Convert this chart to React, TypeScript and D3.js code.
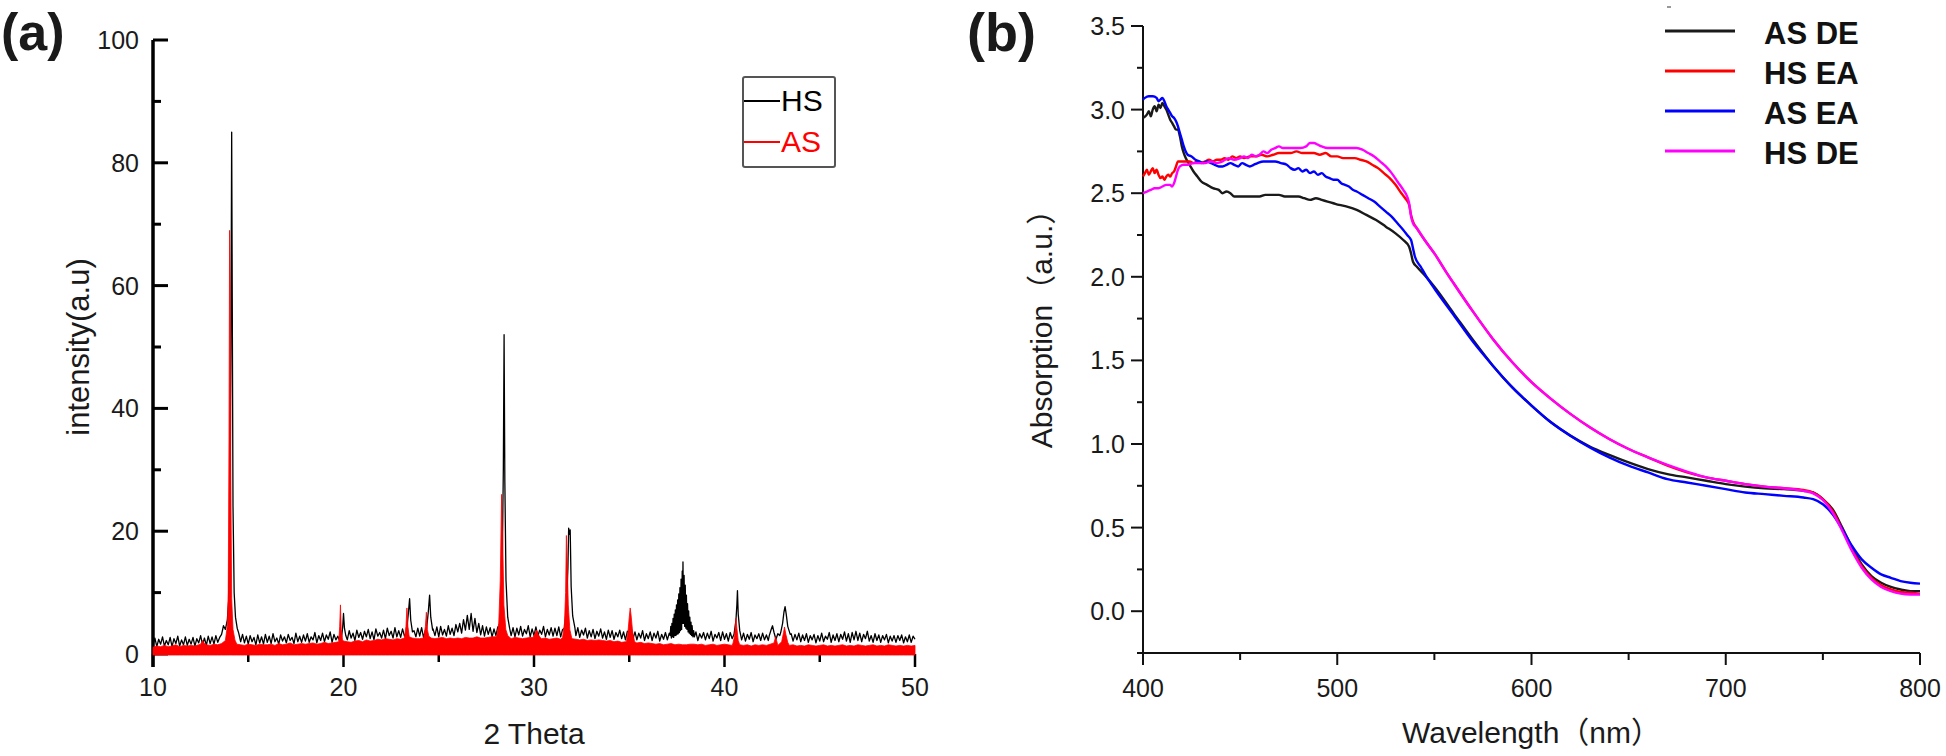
import React from "react";
import * as d3 from "d3";

// ---------------- Panel (a): XRD ----------------
const xrdXTicks = [10, 20, 30, 40, 50];
const xrdXMinor = [15, 25, 35, 45];
const xrdYTicks = [0, 20, 40, 60, 80, 100];
const xrdYMinor = [10, 30, 50, 70, 90];

// HS baseline (2θ from 10 to 50, step 0.1)
const hsStart = 10;
const hsStep = 0.1;
const hsBaseline = [
  1.4,2.6,1.2,2.4,1.6,2.8,1.3,2.2,1.5,2.7,
  1.2,2.5,1.7,2.9,1.3,2.3,1.5,2.8,1.4,2.4,
  1.6,2.7,1.3,2.5,1.8,3.0,1.5,2.6,1.4,2.9,
  1.7,2.8,1.6,3.0,1.9,2.7,2.0,3.1,3.3,3.6,
  5,5,5,5,5,3.6,2.0,3.2,1.8,2.9,
  1.6,3.0,2.0,2.7,1.5,3.1,1.8,2.8,1.6,3.2,
  1.9,2.9,1.7,3.3,2.0,2.6,1.6,3.1,2.1,2.8,
  1.8,3.2,2.2,2.7,1.7,3.4,2.0,2.9,1.9,3.1,
  2.1,3.3,1.9,2.8,2.3,3.5,1.8,3.0,2.2,3.4,
  2.0,3.1,2.4,3.6,1.9,3.2,2.3,2.9,2.1,3.0,
  3,3,2.3,3.8,2.6,3.4,2.2,3.9,2.7,3.5,
  2.4,3.7,2.8,4.0,2.5,3.6,2.3,4.1,2.9,3.5,
  2.6,3.9,2.5,4.2,3.0,3.7,2.6,4.3,2.8,3.8,
  2.7,4.1,2.9,3.6,4,4,4,3.8,2.8,4.2,
  2.9,4.3,2.7,3.9,4,4,4,4.1,3.0,4.4,
  2.8,4.5,3.1,4.0,2.9,4.6,3.2,4.2,3.0,4.8,
  3.6,5.0,3.4,5.6,3.9,6.3,4.0,6.6,3.7,5.8,
  3.5,5.0,3.1,4.6,2.9,4.4,3.2,4.3,2.8,4.1,
  3.0,4.4,4,4,4,4,4,4,3.0,4.3,
  2.8,4.2,3.1,4.5,2.9,4.0,3.3,4.6,2.8,4.1,
  3.0,4.4,2.9,3.9,3.2,4.5,2.8,4.0,3.1,4.3,
  2.9,4.2,3.0,4.4,2.8,4.0,4,4,4,4,
  4,4,3.0,4.3,2.7,3.9,3.1,4.2,2.6,3.8,
  2.8,4.0,2.5,3.7,2.9,4.1,2.6,3.6,2.4,3.9,
  2.7,3.8,2.4,3.5,2.8,3.9,2.5,3.6,2.3,3.7,
  3.6,4.2,2.5,3.6,2.3,3.4,2.6,3.8,2.2,3.3,
  2.5,3.6,2.2,3.4,2.6,3.7,2.1,3.2,2.4,3.5,
  2.3,3.4,2.6,3,3,3,3,3,3,3,
  3,3,3,3,2.4,3.6,2.2,3.3,2.6,3.5,
  2.3,3.4,2.5,3.7,2.1,3.2,2.6,3.5,2.2,3.6,
  2.4,3.3,2.1,3.5,2.5,3,3,3,3,2.3,
  3.4,2.1,3.2,2.4,3.5,2.0,3.1,2.5,3.3,2.2,
  3.4,2.3,3.1,2.2,3,3,3,2.4,3.3,3,
  3,3,3,3,3,3.3,2.1,3.2,2.3,3.4,
  2.0,3.1,2.2,3.3,1.9,3.0,2.3,3.2,1.8,3.0,
  2.1,3.4,2.0,2.9,2.4,3.5,1.9,3.1,2.2,3.3,
  2.0,3.2,2.4,3.6,2.1,3.3,1.9,3.5,2.3,3.7,
  2.2,3.4,2.0,3.2,2.5,3.7,2.1,3.0,1.9,3.3,
  2.2,3.1,1.9,3.0,2.3,3.2,1.8,2.9,2.1,3.0,
  1.9,3.0,2.2,3.1,1.8,2.8,2.0,3.1,1.9,2.9,
  2.4,
];

// HS peak clusters [2θ, intensity]
const hsPeaks = [
  [[13.6,3.2],[13.7,4.6],[13.8,4.0],[13.9,5.5],[13.98,9],[14.04,22],[14.09,50],[14.13,85],[14.16,58],[14.2,24],[14.26,10],[14.33,6],[14.42,4.2],[14.5,3.4]],
  [[19.9,2.8],[19.96,4.5],[20.0,6.6],[20.05,4.2],[20.12,3.0]],
  [[23.3,3.4],[23.4,6.5],[23.47,9.0],[23.53,5.5],[23.62,3.6]],
  [[24.35,3.8],[24.45,6.8],[24.52,9.6],[24.58,6.0],[24.68,3.9]],
  [[28.15,4.0],[28.25,6.5],[28.33,14],[28.39,30],[28.43,52],[28.47,28],[28.53,12],[28.62,6.0],[28.72,4.2]],
  [[31.6,4.2],[31.7,7.5],[31.78,14],[31.82,20.5],[31.86,19.5],[31.9,20.2],[31.95,11],[32.03,6.2],[32.15,4.2]],
  [[37.15,3],[37.18,4.5],[37.21,2.6],[37.24,5],[37.27,2.8],[37.3,5.8],[37.33,2.7],[37.36,6.5],[37.39,3],[37.42,7.2],[37.45,3],[37.48,8],[37.51,3.2],[37.54,8.8],[37.57,3.3],[37.6,9.8],[37.63,3.5],[37.66,10.8],[37.69,3.8],[37.72,12.2],[37.75,4],[37.78,13.5],[37.8,5],[37.82,15],[37.85,5],[37.88,12.8],[37.91,4.5],[37.94,11.2],[37.97,4.2],[38.0,9.6],[38.03,4],[38.06,8.2],[38.09,3.6],[38.12,7],[38.15,3.4],[38.18,6],[38.21,3.2],[38.24,5.2],[38.27,3],[38.3,4.6],[38.34,2.8],[38.38,3.8],[38.42,2.8]],
  [[40.5,3.2],[40.6,5.5],[40.65,8],[40.68,10.3],[40.72,6.5],[40.8,3.8]],
  [[42.35,3],[42.45,4.0],[42.52,4.6],[42.6,3.5]],
  [[42.95,3.5],[43.05,5.0],[43.12,6.8],[43.18,7.7],[43.24,6.5],[43.32,4.5],[43.45,3.2]],
];

// AS baseline (2θ from 10 to 50, step 0.2)
const asStart = 10;
const asStep = 0.2;
const asBaseline = [
  1.1,1.3,1.2,1.4,1.2,1.3,1.5,1.2,1.4,1.3,
  1.4,1.3,1.5,1.7,1.5,1.4,1.6,1.5,1.7,1.8,
  1.9,1.8,1.6,1.5,1.4,1.6,1.5,1.4,1.6,1.5,
  1.5,1.6,1.4,1.7,1.5,1.6,1.8,1.5,1.6,1.7,
  1.6,1.7,1.8,1.6,1.7,1.9,1.7,1.8,1.9,2.0,
  2.1,2.0,1.9,2.1,2.2,2.0,2.3,2.1,2.2,2.4,
  2.3,2.5,2.4,2.3,2.5,2.4,2.5,2.4,2.6,2.5,
  2.5,2.6,2.4,2.6,2.5,2.6,2.7,2.5,2.6,2.5,
  2.6,2.5,2.7,2.6,2.6,2.8,2.6,2.6,2.7,2.8,
  2.8,2.7,2.6,2.6,2.5,2.7,2.6,2.5,2.6,2.7,
  2.6,2.7,2.5,2.6,2.4,2.5,2.6,2.4,2.5,2.6,
  2.5,2.4,2.3,2.4,2.2,2.3,2.2,2.3,2.2,2.1,
  2.2,2.0,2.1,1.9,2.0,2.1,1.9,1.8,1.9,1.7,
  1.8,1.7,1.6,1.7,1.5,1.6,1.7,1.5,1.6,1.5,
  1.5,1.6,1.6,1.5,1.6,1.4,1.5,1.6,1.4,1.5,
  1.6,1.5,1.4,1.6,1.5,1.4,1.5,1.3,1.5,1.4,
  1.5,1.4,1.6,1.5,1.4,1.5,1.3,1.4,1.5,1.3,
  1.4,1.3,1.5,1.4,1.3,1.4,1.5,1.3,1.4,1.3,
  1.4,1.5,1.3,1.4,1.3,1.5,1.4,1.3,1.4,1.5,
  1.3,1.4,1.3,1.5,1.4,1.3,1.4,1.3,1.4,1.3,
  1.4,
];

const asPeaks = [
  [[12.5,1.6],[12.6,2.2],[12.7,1.7]],
  [[13.8,2.2],[13.9,4.5],[13.95,10],[13.99,35],[14.02,69],[14.05,60],[14.08,30],[14.13,9],[14.2,4],[14.3,2.3]],
  [[19.75,2.0],[19.8,4.5],[19.84,8.0],[19.88,4.0],[19.95,2.3]],
  [[23.2,2.6],[23.28,4.5],[23.33,7.5],[23.38,4.5],[23.45,2.8]],
  [[24.22,2.8],[24.3,4.5],[24.35,6.8],[24.4,4.0],[24.48,2.9]],
  [[28.05,3.0],[28.15,5],[28.23,12],[28.3,26],[28.36,18],[28.42,8],[28.52,4],[28.62,3]],
  [[29.95,2.7],[30.05,3.3],[30.13,3.9],[30.22,3.2],[30.32,2.7]],
  [[31.5,2.7],[31.6,5],[31.66,10],[31.7,19.3],[31.74,15],[31.8,8],[31.88,4],[31.98,2.6]],
  [[34.85,2.0],[34.93,3.5],[35.0,6.0],[35.05,7.5],[35.1,6.2],[35.18,3.5],[35.28,2.0]],
  [[40.45,1.8],[40.53,3.0],[40.6,5.8],[40.65,4.2],[40.72,2.2]],
  [[42.6,1.8],[42.68,2.8],[42.76,1.9]],
  [[43.0,2],[43.1,3.5],[43.15,4.4],[43.22,3.2],[43.32,1.9]],
];

const xrdLegend = [
  { name: "HS", color: "#000000" },
  { name: "AS", color: "#ff0000" },
];

// ---------------- Panel (b): UV-Vis ----------------
const wlTicks = [400, 500, 600, 700, 800];
const wlMinor = [450, 550, 650, 750];
const absTicks = [0, 0.5, 1.0, 1.5, 2.0, 2.5, 3.0, 3.5];
const absMinor = [-0.25, 0.25, 0.75, 1.25, 1.75, 2.25, 2.75, 3.25];

const asDE = [
  [400,2.95],[402,2.97],[403,2.99],[404,2.96],[405,3.0],[406,3.02],[407,2.99],[408,3.03],[409,3.01],[410,3.04],[411,3.02],[412,3.0],[413,2.97],[414,2.94],[415,2.92],[416,2.9],[417,2.88],[418,2.88],[419,2.84],[420,2.78],[421,2.74],[422,2.71],[424,2.67],[426,2.63],[428,2.6],[430,2.57],[433,2.55],[436,2.53],[439,2.52],[441,2.5],[443,2.51],[445,2.5],[447,2.48],[450,2.48],[455,2.48],[460,2.48],[463,2.49],[466,2.49],[470,2.49],[473,2.48],[477,2.48],[480,2.48],[483,2.47],[486,2.46],[489,2.47],[492,2.46],[495,2.45],[498,2.44],[501,2.43],[505,2.42],[510,2.40],[515,2.37],[520,2.34],[525,2.30],[530,2.26],[534,2.22],[537,2.18],[538,2.14],[539,2.09],[541,2.06],[545,2.01],[550,1.94],[560,1.78],[570,1.62],[580,1.47],[590,1.34],[600,1.23],[610,1.13],[620,1.05],[630,0.985],[640,0.935],[650,0.89],[660,0.85],[670,0.82],[680,0.80],[690,0.78],[700,0.76],[710,0.745],[720,0.735],[730,0.73],[740,0.72],[745,0.71],[750,0.67],[755,0.61],[760,0.50],[765,0.38],[770,0.28],[775,0.21],[780,0.17],[785,0.145],[790,0.13],[795,0.12],[800,0.12],
];
const hsEA = [
  [400,2.60],[401,2.62],[402,2.64],[403,2.61],[404,2.63],[405,2.65],[406,2.62],[407,2.64],[408,2.61],[409,2.59],[410,2.6],[411,2.58],[412,2.6],[413,2.61],[414,2.6],[415,2.62],[416,2.63],[417,2.66],[418,2.69],[420,2.69],[422,2.69],[424,2.69],[426,2.68],[428,2.69],[430,2.68],[432,2.69],[434,2.70],[436,2.69],[438,2.70],[440,2.70],[442,2.71],[444,2.70],[446,2.72],[448,2.71],[450,2.72],[452,2.71],[455,2.72],[458,2.72],[461,2.73],[464,2.72],[467,2.73],[470,2.74],[473,2.74],[476,2.74],[479,2.75],[482,2.74],[485,2.74],[488,2.74],[491,2.73],[494,2.74],[497,2.72],[500,2.72],[503,2.71],[506,2.71],[509,2.71],[512,2.70],[515,2.69],[518,2.67],[521,2.65],[524,2.62],[527,2.59],[530,2.55],[533,2.50],[535,2.47],[537,2.43],[538,2.37],[539,2.33],[541,2.29],[545,2.22],[550,2.14],[556,2.03],[560,1.96],[570,1.79],[580,1.63],[590,1.49],[600,1.37],[610,1.27],[620,1.18],[630,1.10],[640,1.03],[650,0.97],[660,0.92],[670,0.87],[680,0.83],[690,0.80],[700,0.78],[710,0.76],[720,0.745],[730,0.735],[740,0.725],[745,0.71],[750,0.67],[755,0.60],[760,0.49],[765,0.37],[770,0.27],[775,0.2],[780,0.155],[785,0.13],[790,0.115],[795,0.11],[800,0.105],
];
const asEA = [
  [400,3.06],[401,3.07],[403,3.08],[405,3.08],[407,3.07],[408,3.05],[409,3.06],[410,3.07],[411,3.05],[412,3.02],[413,3.0],[414,2.98],[415,2.96],[416,2.95],[417,2.93],[418,2.9],[419,2.86],[420,2.82],[421,2.78],[422,2.75],[423,2.73],[425,2.72],[427,2.70],[429,2.69],[431,2.68],[433,2.69],[435,2.68],[437,2.67],[439,2.66],[441,2.66],[443,2.67],[445,2.68],[447,2.67],[449,2.66],[451,2.68],[453,2.67],[455,2.66],[457,2.67],[459,2.68],[462,2.69],[465,2.69],[468,2.69],[471,2.68],[474,2.67],[476,2.65],[478,2.64],[480,2.65],[482,2.63],[484,2.64],[486,2.62],[488,2.63],[490,2.61],[492,2.62],[494,2.60],[496,2.59],[498,2.58],[500,2.58],[502,2.56],[504,2.55],[506,2.54],[508,2.52],[510,2.51],[513,2.49],[516,2.47],[519,2.45],[522,2.42],[525,2.39],[528,2.36],[531,2.32],[534,2.28],[536,2.25],[538,2.22],[539,2.17],[540,2.12],[543,2.06],[546,2.0],[550,1.93],[560,1.77],[570,1.61],[580,1.47],[590,1.34],[600,1.23],[610,1.13],[620,1.05],[630,0.98],[640,0.92],[650,0.87],[660,0.83],[670,0.79],[680,0.77],[690,0.75],[700,0.73],[710,0.71],[720,0.70],[730,0.69],[740,0.68],[745,0.67],[750,0.64],[755,0.58],[760,0.49],[765,0.39],[770,0.31],[775,0.26],[780,0.22],[785,0.20],[790,0.18],[795,0.17],[800,0.165],
];
const hsDE = [
  [400,2.50],[402,2.51],[404,2.52],[406,2.53],[408,2.53],[410,2.54],[412,2.55],[414,2.55],[415,2.54],[416,2.56],[417,2.60],[418,2.64],[419,2.66],[421,2.67],[423,2.67],[426,2.68],[429,2.68],[432,2.68],[435,2.69],[438,2.68],[441,2.69],[444,2.71],[447,2.70],[450,2.71],[452,2.72],[454,2.71],[456,2.73],[458,2.72],[460,2.73],[462,2.75],[464,2.74],[466,2.76],[468,2.77],[470,2.78],[472,2.77],[475,2.77],[478,2.77],[481,2.77],[484,2.78],[486,2.80],[488,2.80],[490,2.79],[492,2.78],[495,2.77],[498,2.77],[501,2.77],[504,2.77],[507,2.77],[510,2.77],[513,2.76],[516,2.74],[519,2.72],[522,2.69],[525,2.66],[528,2.62],[531,2.57],[534,2.52],[536,2.48],[537,2.44],[538,2.36],[539,2.32],[541,2.29],[545,2.22],[550,2.14],[556,2.03],[560,1.96],[570,1.79],[580,1.63],[590,1.49],[600,1.37],[610,1.27],[620,1.18],[630,1.10],[640,1.03],[650,0.97],[660,0.92],[670,0.875],[680,0.835],[690,0.80],[700,0.78],[710,0.76],[720,0.745],[730,0.735],[740,0.72],[745,0.705],[750,0.665],[755,0.59],[760,0.48],[765,0.36],[770,0.26],[775,0.19],[780,0.145],[785,0.12],[790,0.105],[795,0.10],[800,0.10],
];

const uvSeries = [
  { name: "AS DE", color: "#1a1a1a", data: asDE },
  { name: "HS EA", color: "#ff0000", data: hsEA },
  { name: "AS EA", color: "#0000ff", data: asEA },
  { name: "HS DE", color: "#ff00ff", data: hsDE },
];

const FONT = "'Liberation Sans', Arial, 'Noto Sans CJK SC', sans-serif";

function merge(start: number, step: number, base: number[], clusters: number[][][]) {
  const ranges = clusters.map((c) => [c[0][0], c[c.length - 1][0]]);
  const pts = base
    .map((v, i) => [start + i * step, v])
    .filter(([x]) => !ranges.some(([a, b]) => x >= a - 1e-6 && x <= b + 1e-6));
  return [...pts, ...clusters.flat()].sort((p, q) => p[0] - q[0]);
}

export default function App() {
  // Panel a scales
  const xa = d3.scaleLinear().domain([10, 50]).range([153, 915]);
  const ya = d3.scaleLinear().domain([0, 100]).range([654, 40]);
  const hs = merge(hsStart, hsStep, hsBaseline, hsPeaks);
  const as = merge(asStart, asStep, asBaseline, asPeaks);
  const hsLine = d3.line<number[]>().x((d) => xa(d[0])).y((d) => ya(d[1]))(hs) || "";
  const asArea =
    d3.area<number[]>().x((d) => xa(d[0])).y0(ya(0) + 1).y1((d) => ya(d[1]))(as) || "";

  // Panel b scales
  const xb = d3.scaleLinear().domain([400, 800]).range([1143, 1920]);
  const yb = d3.scaleLinear().domain([-0.25, 3.5]).range([653, 26]);
  const uvLine = d3
    .line<number[]>()
    .x((d) => xb(d[0]))
    .y((d) => yb(d[1]))
    .curve(d3.curveMonotoneX);

  const tickText = { fontFamily: FONT, fontSize: 25, fill: "#1a1a1a" } as const;

  return (
    <svg
      width={1946}
      height={756}
      style={{ position: "absolute", left: 0, top: 0, background: "#fff" }}
    >
      <rect x={0} y={0} width={1946} height={756} fill="#fff" />

      {/* ===== Panel (a) ===== */}
      <text x={1} y={50} fontFamily={FONT} fontWeight="bold" fontSize={52} fill="#1a1a1a">
        (a)
      </text>

      {/* axes */}
      <line x1={xa(10)} x2={xa(50)} y1={ya(0)} y2={ya(0)} stroke="#000" strokeWidth={2} />
      <line x1={xa(10)} x2={xa(10)} y1={ya(100)} y2={ya(0) + 13} stroke="#000" strokeWidth={3.5} />
      {xrdYTicks.map((t) => (
        <g key={"ya" + t}>
          <line x1={xa(10)} x2={xa(10) + 15} y1={ya(t)} y2={ya(t)} stroke="#000" strokeWidth={3} />
          <text x={xa(10) - 14} y={ya(t) + 9} textAnchor="end" {...tickText}>
            {t}
          </text>
        </g>
      ))}
      {xrdYMinor.map((t) => (
        <line key={"yam" + t} x1={xa(10)} x2={xa(10) + 8} y1={ya(t)} y2={ya(t)} stroke="#000" strokeWidth={3} />
      ))}
      {xrdXTicks.map((t) => (
        <g key={"xa" + t}>
          <line x1={xa(t)} x2={xa(t)} y1={ya(0)} y2={ya(0) + 13} stroke="#000" strokeWidth={2.5} />
          <text x={xa(t)} y={696} textAnchor="middle" {...tickText}>
            {t}
          </text>
        </g>
      ))}
      {xrdXMinor.map((t) => (
        <line key={"xam" + t} x1={xa(t)} x2={xa(t)} y1={ya(0)} y2={ya(0) + 8} stroke="#000" strokeWidth={2.5} />
      ))}

      {/* data */}
      <path d={hsLine} fill="none" stroke="#000" strokeWidth={1.3} strokeLinejoin="round" />
      <path d={asArea} fill="#ff0000" stroke="#ff0000" strokeWidth={0.8} />

      {/* titles */}
      <text x={(xa(10) + xa(50)) / 2} y={744} textAnchor="middle" fontFamily={FONT} fontSize={30} fill="#1a1a1a">
        2 Theta
      </text>
      <text
        transform={`translate(89,${(ya(0) + ya(100)) / 2}) rotate(-90)`}
        textAnchor="middle"
        fontFamily={FONT}
        fontSize={31}
        fill="#1a1a1a"
      >
        intensity(a.u)
      </text>

      {/* legend (a) */}
      <rect x={743} y={77} width={92} height={90} rx={2} fill="#fff" stroke="#555" strokeWidth={2} />
      {xrdLegend.map((s, i) => (
        <g key={s.name}>
          <line x1={744} x2={780} y1={101 + i * 41} y2={101 + i * 41} stroke={s.color} strokeWidth={2} />
          <text x={781} y={111 + i * 41} fontFamily={FONT} fontSize={30} fill={s.color}>
            {s.name}
          </text>
        </g>
      ))}

      {/* ===== Panel (b) ===== */}
      <text x={967} y={51} fontFamily={FONT} fontWeight="bold" fontSize={54} fill="#1a1a1a">
        (b)
      </text>
      <line x1={1667} x2={1671} y1={7} y2={7} stroke="#999" strokeWidth={2} />

      <line x1={xb(400)} x2={xb(400)} y1={yb(3.5)} y2={yb(-0.25) + 12} stroke="#111" strokeWidth={2} />
      <line x1={xb(400) - 1} x2={xb(800)} y1={yb(-0.25)} y2={yb(-0.25)} stroke="#111" strokeWidth={2} />
      {absTicks.map((t) => (
        <g key={"yb" + t}>
          <line x1={xb(400) - 12} x2={xb(400)} y1={yb(t)} y2={yb(t)} stroke="#111" strokeWidth={2} />
          <text x={xb(400) - 18} y={yb(t) + 9} textAnchor="end" {...tickText}>
            {t.toFixed(1)}
          </text>
        </g>
      ))}
      {absMinor.map((t) => (
        <line key={"ybm" + t} x1={xb(400) - 6} x2={xb(400)} y1={yb(t)} y2={yb(t)} stroke="#111" strokeWidth={2} />
      ))}
      {wlTicks.map((t) => (
        <g key={"xb" + t}>
          <line x1={xb(t)} x2={xb(t)} y1={yb(-0.25)} y2={yb(-0.25) + 12} stroke="#111" strokeWidth={2} />
          <text x={xb(t)} y={697} textAnchor="middle" {...tickText}>
            {t}
          </text>
        </g>
      ))}
      {wlMinor.map((t) => (
        <line key={"xbm" + t} x1={xb(t)} x2={xb(t)} y1={yb(-0.25)} y2={yb(-0.25) + 7} stroke="#111" strokeWidth={2} />
      ))}

      {uvSeries.map((s) => (
        <path key={s.name} d={uvLine(s.data) || ""} fill="none" stroke={s.color} strokeWidth={2.4} strokeLinejoin="round" />
      ))}

      <text x={(xb(400) + xb(800)) / 2} y={743} textAnchor="middle" fontFamily={FONT} fontSize={30} fill="#1a1a1a">
        Wavelength（nm）
      </text>
      <text
        transform={`translate(1052,${(yb(-0.25) + yb(3.5)) / 2 - 18}) rotate(-90)`}
        textAnchor="middle"
        fontFamily={FONT}
        fontSize={30}
        fill="#1a1a1a"
      >
        Absorption（a.u.）
      </text>

      {/* legend (b) */}
      {uvSeries.map((s, i) => (
        <g key={"lg" + s.name}>
          <line x1={1665} x2={1735} y1={31 + i * 40} y2={31 + i * 40} stroke={s.color} strokeWidth={3} />
          <text x={1764} y={44 + i * 40} fontFamily={FONT} fontWeight="bold" fontSize={31} fill="#111">
            {s.name}
          </text>
        </g>
      ))}
    </svg>
  );
}
